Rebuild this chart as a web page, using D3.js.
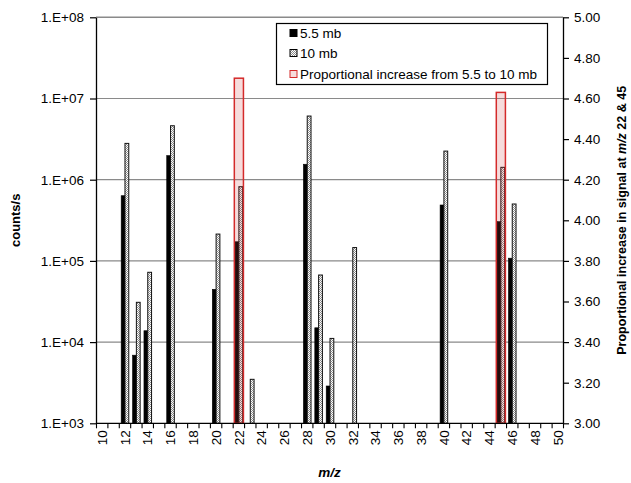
<!DOCTYPE html>
<html>
<head>
<meta charset="utf-8">
<script src="https://cdn.jsdelivr.net/npm/d3@7"></script>
<style>
  html, body { margin: 0; padding: 0; background: #fff; }
  svg { display: block; font-family: "Liberation Sans", Arial, sans-serif; }
</style>
</head>
<body>
<svg id="chart" width="631" height="483"></svg>
<script>
// ---------- data ----------
const categories = [10,11,12,13,14,15,16,17,18,19,20,21,22,23,24,25,26,27,28,29,30,
                    31,32,33,34,35,36,37,38,39,40,41,42,43,44,45,46,47,48,49,50];
const mzPeaks   = [12, 13, 14, 16, 20, 22, 23, 28, 29, 30, 32, 40, 45, 46];
const counts5_5 = [6.35e5, 6.9e3, 1.38e4, 1.98e6, 4.47e4, 1.72e5, null, 1.55e6, 1.5e4, 2.88e3, null, 4.88e5, 3.04e5, 1.08e5];
const counts10  = [2.8e6, 3.09e4, 7.24e4, 4.62e6, 2.14e5, 8.2e5, 3.48e3, 6.08e6, 6.7e4, 1.11e4, 1.46e5, 2.25e6, 1.42e6, 5.02e5];
const ratioMz   = [22, 45];
const ratioVals = [4.70, 4.63];
const leftTicks  = [1e3, 1e4, 1e5, 1e6, 1e7, 1e8];
const leftTickLabels = ["1.E+03","1.E+04","1.E+05","1.E+06","1.E+07","1.E+08"];
const rightTicks = [3.0, 3.2, 3.4, 3.6, 3.8, 4.0, 4.2, 4.4, 4.6, 4.8, 5.0];
const xTickLabels = [10,12,14,16,18,20,22,24,26,28,30,32,34,36,38,40,42,44,46,48,50];
const seriesNames = ["5.5 mb", "10 mb", "Proportional increase from 5.5 to 10 mb"];

// ---------- layout ----------
const L = 96, R = 563, T = 17.3, B = 423.3;
const svg = d3.select("#chart");

const defs = svg.append("defs");
const pat = defs.append("pattern").attr("id", "dots")
  .attr("patternUnits", "userSpaceOnUse").attr("width", 2).attr("height", 2);
pat.append("rect").attr("width", 2).attr("height", 2).attr("fill", "#fff");
pat.append("rect").attr("width", 1).attr("height", 1).attr("fill", "#8a8a8a");
pat.append("rect").attr("x", 1).attr("y", 1).attr("width", 1).attr("height", 1).attr("fill", "#8a8a8a");

const x = d3.scaleBand().domain(categories).range([L + 0.5, R + 0.5]).paddingInner(0).paddingOuter(0);
const xs = d3.scaleBand().domain([0, 1]).range([0, x.bandwidth()]).paddingInner(0).paddingOuter(0.5);
const y = d3.scaleLog().domain([1e3, 1e8]).range([B, T]);
const y2 = d3.scaleLinear().domain([3, 5]).range([B, T]);

// gridlines
svg.append("g").selectAll("line").data(leftTicks.slice(1)).join("line")
  .attr("x1", L).attr("x2", R)
  .attr("y1", d => y(d)).attr("y2", d => y(d))
  .attr("stroke", "#8a8a8a").attr("stroke-width", d => d === 1e8 ? 1.6 : 1.2);

// primary bars
const rows = mzPeaks.map((m, i) => ({ m, a: counts5_5[i], b: counts10[i] }));
const gBars = svg.append("g");
gBars.selectAll("rect.a").data(rows.filter(d => d.a != null)).join("rect")
  .attr("class", "a")
  .attr("x", d => x(d.m) + xs(0)).attr("width", xs.bandwidth())
  .attr("y", d => y(d.a)).attr("height", d => y(1e3) - y(d.a))
  .attr("fill", "#000").attr("stroke", "#000").attr("stroke-width", 0.6);
gBars.selectAll("rect.b").data(rows.filter(d => d.b != null)).join("rect")
  .attr("class", "b")
  .attr("x", d => x(d.m) + xs(1)).attr("width", xs.bandwidth())
  .attr("y", d => y(d.b)).attr("height", d => y(1e3) - y(d.b))
  .attr("fill", "url(#dots)").attr("stroke", "#111").attr("stroke-width", 1);

// secondary bars (ratio)
const rrows = ratioMz.map((m, i) => ({ m, v: ratioVals[i] }));
svg.append("g").selectAll("rect").data(rrows).join("rect")
  .attr("x", d => x(d.m) + x.bandwidth() * 0.1).attr("width", x.bandwidth() * 0.8)
  .attr("y", d => y2(d.v)).attr("height", d => y2(3) - y2(d.v))
  .attr("fill", "rgba(205,60,60,0.18)").attr("stroke", "#d42a2a").attr("stroke-width", 1.5);

// left axis
const axL = svg.append("g").attr("transform", `translate(${L},0)`)
  .call(d3.axisLeft(y).tickValues(leftTicks).tickFormat((d, i) => leftTickLabels[i]).tickSize(6).tickSizeOuter(0).tickPadding(6));
axL.select(".domain").attr("stroke", "#000").attr("stroke-width", 1.3);
axL.selectAll(".tick line").attr("stroke", "#000").attr("stroke-width", 1.2);
axL.selectAll("text").attr("font-size", 13.5).attr("fill", "#000");

// right axis
const axR = svg.append("g").attr("transform", `translate(${R},0)`)
  .call(d3.axisRight(y2).tickValues(rightTicks).tickFormat(d3.format(".2f")).tickSize(6).tickSizeOuter(0).tickPadding(5));
axR.select(".domain").attr("stroke", "#000").attr("stroke-width", 1.3);
axR.selectAll(".tick line").attr("stroke", "#000").attr("stroke-width", 1.2);
axR.selectAll("text").attr("font-size", 13.5).attr("fill", "#000");

// bottom axis
const gx = svg.append("g");
gx.append("line").attr("x1", L).attr("x2", R).attr("y1", B).attr("y2", B)
  .attr("stroke", "#000").attr("stroke-width", 1.3);
const boundaries = categories.map(c => x(c)).concat([x(categories[categories.length - 1]) + x.bandwidth()]);
gx.selectAll("line.t").data(boundaries).join("line").attr("class", "t")
  .attr("x1", d => d).attr("x2", d => d).attr("y1", B).attr("y2", B + 5)
  .attr("stroke", "#000").attr("stroke-width", 1.1);
gx.selectAll("text").data(xTickLabels).join("text")
  .attr("transform", d => `translate(${x(d) + x.bandwidth() / 2},${B + 7}) rotate(-90)`)
  .attr("text-anchor", "end").attr("dy", "0.35em")
  .attr("font-size", 13.5).attr("fill", "#000").text(d => d);

// axis titles
svg.append("text").attr("transform", `translate(20,${(T + B) / 2}) rotate(-90)`)
  .attr("text-anchor", "middle").attr("font-weight", "bold").attr("font-size", 13)
  .text("counts/s");
const rt = svg.append("text").attr("transform", `translate(626,${(T + B) / 2}) rotate(-90)`)
  .attr("text-anchor", "middle").attr("font-weight", "bold").attr("font-size", 12.5);
rt.append("tspan").text("Proportional increase in signal at ");
rt.append("tspan").attr("font-style", "italic").text("m/z");
rt.append("tspan").text(" 22 & 45");
svg.append("text").attr("x", (L + R) / 2).attr("y", 477)
  .attr("text-anchor", "middle").attr("font-weight", "bold").attr("font-style", "italic")
  .attr("font-size", 13.5).text("m/z");

// legend
const lg = svg.append("g");
lg.append("rect").attr("x", 276.5).attr("y", 23.5).attr("width", 271).attr("height", 61)
  .attr("fill", "#fff").attr("stroke", "#000").attr("stroke-width", 1.2);
const rowY = [33, 53, 74];
const mk = lg.selectAll("g.item").data(seriesNames).join("g").attr("class", "item")
  .attr("transform", (d, i) => `translate(290,${rowY[i]})`);
mk.append("rect").attr("x", 0).attr("y", -3.5).attr("width", 7).attr("height", 7)
  .attr("fill", (d, i) => i === 0 ? "#000" : i === 1 ? "url(#dots)" : "rgba(205,60,60,0.18)")
  .attr("stroke", (d, i) => i === 2 ? "#d42a2a" : "#000").attr("stroke-width", 1);
mk.append("text").attr("x", 10).attr("dy", "0.35em").attr("font-size", 13.5).attr("fill", "#000")
  .text(d => d);
</script>
</body>
</html>
